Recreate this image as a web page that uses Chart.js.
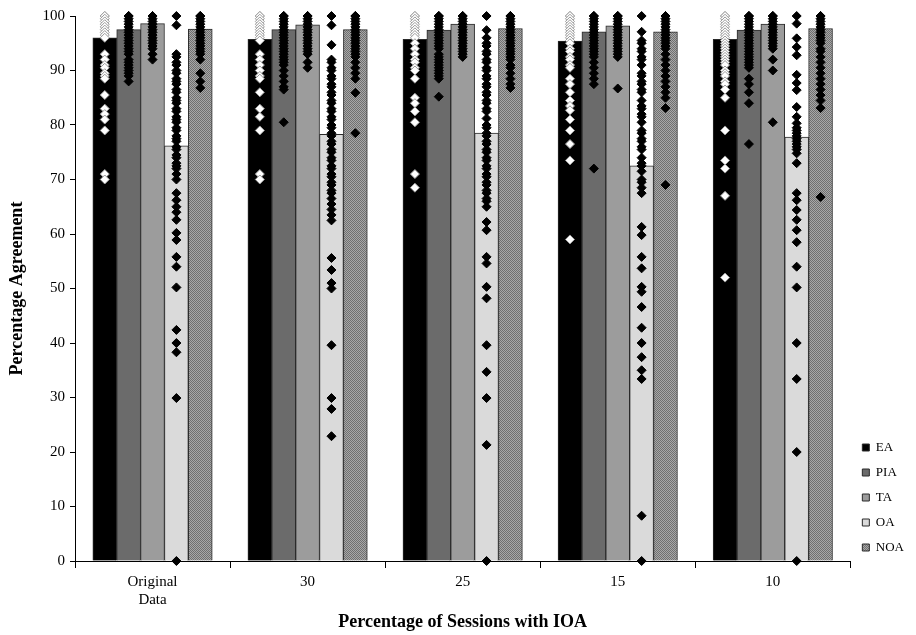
<!DOCTYPE html>
<html>
<head>
<meta charset="utf-8">
<script src="https://cdn.jsdelivr.net/npm/chart.js@4.4.1/dist/chart.umd.min.js"></script>
<style>
  html, body { margin: 0; padding: 0; background: #fff; }
  #wrap { width: 916px; height: 635px; }
</style>
</head>
<body>
<div id="wrap"><canvas id="chart"></canvas></div>
<script>
/* ---- data ---- */
const CATEGORIES = [["Original", "Data"], "30", "25", "15", "10"];
const SERIES = ["EA", "PIA", "TA", "OA", "NOA"];

// mean agreement per condition (bars)
const EA_MEAN  = [96.0, 95.7, 95.7, 95.4, 95.7];
const PIA_MEAN = [97.5, 97.5, 97.4, 97.1, 97.4];
const TA_MEAN  = [98.6, 98.4, 98.5, 98.2, 98.5];
const OA_MEAN  = [76.2, 78.3, 78.5, 72.5, 77.8];
const NOA_MEAN = [97.6, 97.5, 97.7, 97.1, 97.7];

// individual session values (diamonds), one list per condition
const EA_PTS = [
  [100, 100, 99.5, 99, 98.5, 98, 97.5, 97, 96.5, 96, 93, 92, 91, 90.5, 89.5, 89, 88.5, 85.5, 83, 82, 81, 79, 71, 70],
  [100, 100, 99.5, 99, 98.5, 98, 97.5, 97, 96.5, 96, 95.5, 93, 92, 91, 90, 89, 88.5, 86, 83, 81.5, 79, 71, 70],
  [100, 100, 99.5, 99, 98.5, 98, 97.5, 97, 96.5, 96, 95, 94, 93, 92, 91.5, 90.5, 90, 88.5, 85, 84, 82.5, 80.5, 71, 68.5],
  [100, 100, 99.5, 99, 98.5, 98, 97.5, 97, 96.5, 96, 95.5, 95, 94, 93.5, 92.5, 92, 91, 90.5, 88.5, 87.5, 86, 84.5, 83.5, 82.7, 81, 79, 76.5, 73.5, 59],
  [100, 100, 99.5, 99, 98.5, 98, 97.5, 97, 96.5, 96, 95.5, 95, 94.5, 94, 93.5, 93, 92.5, 92, 91.5, 91, 90, 89.5, 89, 88, 87.5, 86.5, 85, 79, 73.5, 72, 67, 52],
];
const PIA_PTS = [
  [100, 100, 99.5, 99, 98.5, 98, 97.5, 97, 96.5, 96, 95.5, 95, 94.5, 94, 93.5, 93, 92, 91.5, 91, 90.5, 90, 89.5, 89, 88],
  [100, 100, 99.5, 99, 98.5, 98, 97.5, 97, 96.5, 96, 95.5, 95, 94.5, 94, 93.5, 93, 92.5, 92, 91.5, 91, 90, 89, 88, 87, 86.5, 80.5],
  [100, 100, 99.5, 99, 98.5, 98, 97.5, 97, 96.5, 96, 95.5, 95, 94.5, 94, 93, 92.5, 92, 91.5, 91, 90.5, 90, 89.5, 89, 88.5, 85.2],
  [100, 100, 99.5, 99, 98.5, 98, 97.5, 97, 96.5, 96, 95.5, 95, 94.5, 94, 93.5, 93, 92.5, 91.5, 90.5, 89.5, 88.5, 87.5, 72],
  [100, 100, 99.5, 99, 98.5, 98, 97.5, 97, 96.5, 96, 95.5, 95, 94.5, 94, 93.5, 93, 92.5, 92, 91.5, 91, 90.5, 88.5, 87.5, 86, 84, 76.5],
];
const TA_PTS = [
  [100, 100, 99.5, 99, 98.5, 98, 97.5, 97, 96.5, 96, 95.5, 95, 94.5, 94, 93, 92],
  [100, 100, 99.5, 99, 98.5, 98, 97.5, 97, 96.5, 96, 95.5, 95, 94.5, 94, 93.5, 93, 91.5, 90.5],
  [100, 100, 99.5, 99, 98.5, 98, 97.5, 97, 96.5, 96, 95.5, 95, 94.5, 94, 93.5, 93, 92.5],
  [100, 100, 99.5, 99, 98.5, 98, 97.5, 97, 96.5, 96, 95.5, 95, 94.5, 94, 93.5, 93, 92.5, 86.7],
  [100, 100, 99.5, 99, 98.5, 98, 97.5, 97, 96.5, 96, 95.5, 95, 94.5, 94, 92, 90, 80.5],
];
const OA_PTS = [
  [100, 98.3, 93, 92.5, 91.5, 91, 90, 89.5, 88.5, 88, 87.5, 86.5, 86, 85, 84.5, 84, 83, 82.5, 81.5, 81, 80.5, 79.5, 79, 78, 77.5, 77, 76, 75.5, 74.5, 74, 73, 72.5, 72, 71, 70,
   67.5, 66.2, 65, 64, 62.6, 60.2, 58.9, 55.8, 54, 50.2, 42.4, 40, 38.3, 29.9, 0],
  [100, 98.3, 94.7, 92, 91.5, 90.5, 90, 89, 88.5, 87.5, 87, 86, 85.5, 84.5, 84, 83, 82.5, 81.5, 81, 80, 79.5, 78.5, 78, 77, 76.5, 75.5, 75, 74, 73.5, 72.5, 72, 71, 70.5,
   69.5, 69, 68, 67.5, 66.5, 65.5, 64.5, 63.5, 62.5, 55.6, 53.4, 51, 50, 39.6, 29.9, 27.9, 22.9],
  [100, 97.4, 96, 95, 94.5, 93.5, 93, 92, 91.5, 90.5, 90, 89, 88.5, 87.5, 87, 86, 85.5, 84.5, 84, 83, 82.5, 81.2, 80, 79.5, 78.5, 78, 77, 76.5, 75.5, 75, 74, 73.5, 72.5,
   72, 71, 70.5, 69.5, 69, 68, 67.5, 66.5, 66, 65, 62.2, 60.7, 55.8, 54.6, 50.3, 48.2, 39.6, 34.7, 29.9, 21.3, 0],
  [100, 97.1, 95.5, 95, 94, 93.5, 92.5, 92, 91, 89.5, 89, 88, 87.5, 86.5, 86, 84.5, 83.5, 83, 82, 81.5, 80.5, 79, 78.5, 77.5, 77, 76, 75.5, 74, 73, 72.5, 71.5, 70, 69.5,
   68.5, 67.5, 61.3, 59.8, 55.8, 53.7, 50.3, 49.4, 46.6, 42.8, 40, 37.4, 35, 33.4, 8.3, 0],
  [100, 98.6, 95.9, 94.3, 92.8, 89.2, 87.7, 86.4, 83.3, 81.5, 80.3, 79.5, 79, 78.5, 78, 77.5, 77, 76.5, 76, 75.5, 74.8, 73, 67.5, 66.2, 64.4, 62.6, 60.7, 58.5, 54, 50.2,
   40, 33.4, 20, 0],
];
const NOA_PTS = [
  [100, 100, 99.5, 99, 98.5, 98, 97.5, 97, 96.5, 96, 95.5, 95, 94.5, 94, 93.5, 93, 92, 89.5, 88, 86.8],
  [100, 100, 99.5, 99, 98.5, 98, 97.5, 97, 96.5, 96, 95.5, 95, 94.5, 94, 93.5, 93, 92.5, 91.5, 90.5, 89.5, 88.5, 85.9, 78.5],
  [100, 100, 99.5, 99, 98.5, 98, 97.5, 97, 96.5, 96, 95.5, 95, 94.5, 94, 93.5, 93, 92.5, 92, 91, 90.5, 89.5, 88.5, 87.5, 86.8],
  [100, 100, 99.5, 99, 98.5, 98, 97.5, 97, 96.5, 96, 95.5, 95, 94.5, 94, 93, 92, 91, 90, 89, 88, 87, 86, 85, 83.1, 69],
  [100, 100, 99.5, 99, 98.5, 98, 97.5, 97, 96.5, 96, 95.5, 95, 94, 93.5, 92.5, 91.5, 90.5, 89.5, 88.5, 87.5, 86.5, 85.5, 84.5, 83.1, 66.8],
];

const Y_MIN = 0, Y_MAX = 100, Y_STEP = 10;

/* ---- style ---- */
const SERIF = "'Liberation Serif', 'Times New Roman', serif";
const GROUP = 0.77; // share of each category occupied by the 5 bars

function dotPattern() {
  const c = document.createElement("canvas");
  c.width = c.height = 2;
  const g = c.getContext("2d");
  g.fillStyle = "#a8a8a8"; g.fillRect(0, 0, 2, 2);
  g.fillStyle = "#707070"; g.fillRect(0, 0, 1, 1); g.fillRect(1, 1, 1, 1);
  return g.createPattern(c, "repeat");
}

const MEANS = [EA_MEAN, PIA_MEAN, TA_MEAN, OA_MEAN, NOA_MEAN];
const POINTS = [EA_PTS, PIA_PTS, TA_PTS, OA_PTS, NOA_PTS];
const FILLS = ["#000000", "#6b6b6b", "#9c9c9c", "#dadada", dotPattern()];

// position of series j inside category i, on the hidden linear axis "xs"
const slot = (i, j) => i + (j - (SERIES.length - 1) / 2) * GROUP / SERIES.length;

// bars are placed on "xs" one by one (grouped:false) so the diamond
// datasets never take bar slots
const barSets = SERIES.map((name, j) => ({
  type: "bar", label: name, xAxisID: "xs", order: 2, grouped: false,
  data: MEANS[j].map((v, i) => ({ x: slot(i, j), y: v })),
  backgroundColor: FILLS[j], borderColor: "#2a2a2a", borderWidth: 1,
  categoryPercentage: 1, barPercentage: 1,
}));

const dotSets = SERIES.map((name, j) => ({
  type: "line", showLine: false, label: name + " sessions",
  xAxisID: "xs", order: 0, clip: false,
  data: POINTS[j].flatMap((vals, i) => vals.map((v) => ({ x: slot(i, j), y: v }))),
  pointStyle: "rectRot", pointRadius: 4.5,
  backgroundColor: j === 0 ? "#ffffff" : "#000000",
  borderColor: j === 0 ? "#9a9a9a" : "#000000", borderWidth: 1,
}));

// nudge the legend down a little so it sits where the original does
const legendNudge = {
  id: "legendNudge",
  afterLayout(chart) { if (chart.legend) { chart.legend.top += 5; chart.legend.bottom += 5; } },
};

new Chart(document.getElementById("chart").getContext("2d"), {
  type: "bar",
  data: { labels: CATEGORIES, datasets: [...barSets, ...dotSets] },
  plugins: [legendNudge],
  options: {
    responsive: true, maintainAspectRatio: false, animation: false,
    layout: { padding: { top: 16, right: 2, left: 0, bottom: 0 } },
    plugins: {
      tooltip: { enabled: false },
      legend: {
        position: "right", align: "end", fullSize: false,
        labels: {
          filter: (item) => item.datasetIndex < SERIES.length,
          boxWidth: 7, boxHeight: 7, padding: 12, color: "#000",
          font: { family: SERIF, size: 13 },
        },
      },
    },
    scales: {
      x: {
        type: "category", offset: true,
        grid: { display: true, drawOnChartArea: false, offset: true, tickLength: 7, color: "#000" },
        border: { color: "#000", width: 1 },
        ticks: { color: "#000", font: { family: SERIF, size: 15 }, padding: 5, maxRotation: 0 },
        title: {
          display: true, text: "Percentage of Sessions with IOA", color: "#000",
          font: { family: SERIF, size: 18, weight: "bold" }, padding: 2,
        },
        afterFit: (s) => { s.height = 74; },
      },
      xs: {
        type: "linear", display: false, offset: false, grid: { offset: false },
        min: -0.5, max: CATEGORIES.length - 0.5,
      },
      y: {
        min: Y_MIN, max: Y_MAX,
        grid: { drawOnChartArea: false, tickLength: 5, color: "#000" },
        border: { color: "#000", width: 1 },
        ticks: { stepSize: Y_STEP, color: "#000", font: { family: SERIF, size: 15 }, padding: 5 },
        title: {
          display: true, text: "Percentage Agreement", color: "#000",
          font: { family: SERIF, size: 18, weight: "bold" }, padding: 7,
        },
        afterFit: (s) => { s.width = 75; },
      },
    },
  },
});
</script>
</body>
</html>
